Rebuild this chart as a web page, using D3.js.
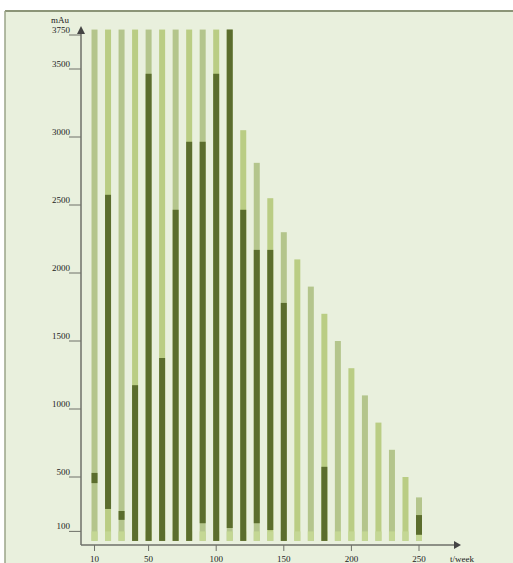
<!DOCTYPE html>
<html>
<head>
<meta charset="utf-8">
<script src="https://cdn.jsdelivr.net/npm/d3@7"></script>
<style>
  body { margin: 0; background: #fff; }
  svg { display: block; }
</style>
</head>
<body>
<svg width="513" height="563"></svg>
<script>
// weeks on the x axis
var weeks = [10, 20, 30, 40, 50, 60, 70, 80, 90, 100, 110, 120, 130,
    140, 150, 160, 170, 180, 190, 200, 210, 220, 230, 240, 250];
// top of the light bar (mAu)
var totals = [3790, 3790, 3790, 3790, 3790, 3790, 3790, 3790, 3790, 3790, 3790, 3050, 2810,
    2550, 2300, 2100, 1900, 1700, 1500, 1300, 1100, 900, 700, 500, 350];
// dark segment low / high (null = none)
var darkLow = [455, 265, 185, 30, 30, 30, 30, 30, 160, 30, 125, 30, 160,
    110, 30, null, null, 30, null, null, null, null, null, null, 75];
var darkHigh = [530, 2575, 250, 1175, 3465, 1375, 2465, 2965, 2965, 3465, 3790, 2465, 2170,
    2170, 1780, null, null, 575, null, null, null, null, null, null, 220];
var barBase = 30;
var lowBand = 100;

var yTicks = [100, 500, 1000, 1500, 2000, 2500, 3000, 3500, 3750];
var xTicks = [10, 50, 100, 150, 200, 250];

function main() {
    var svg = d3.select("svg");

    // frame + background
    svg.append("rect")
        .attr("x", 5).attr("y", 11)
        .attr("width", 508).attr("height", 552)
        .style("fill", "#e9f0dd");
    svg.append("line")
        .attr("x1", 5).attr("y1", 11).attr("x2", 513).attr("y2", 11)
        .style("stroke", "#8c9578").style("stroke-width", 2);
    svg.append("line")
        .attr("x1", 5).attr("y1", 11).attr("x2", 5).attr("y2", 563)
        .style("stroke", "#9aa488").style("stroke-width", 1.5);

    var x = d3.scaleLinear().domain([0, 250]).range([81, 419]);
    var y = d3.scaleLinear().domain([0, 3750]).range([545, 35]);
    var barW = 6;

    var data = weeks.map(function (w, i) {
        return { week: w, total: totals[i], lo: darkLow[i], hi: darkHigh[i], i: i };
    });

    var bars = svg.append("g").selectAll("g")
        .data(data)
        .enter().append("g");

    // light bar
    bars.append("rect")
        .attr("x", function (d) { return x(d.week) - barW / 2; })
        .attr("y", function (d) { return y(d.total); })
        .attr("width", barW)
        .attr("height", function (d) { return y(barBase) - y(d.total); })
        .style("fill", function (d) { return d.i % 2 ? "#bacd84" : "#b4c58c"; });

    // slightly lighter band at the bottom
    bars.append("rect")
        .attr("x", function (d) { return x(d.week) - barW / 2; })
        .attr("y", y(lowBand))
        .attr("width", barW)
        .attr("height", y(barBase) - y(lowBand))
        .style("fill", "#c4d794");

    // dark segment
    bars.filter(function (d) { return d.lo != null; })
        .append("rect")
        .attr("x", function (d) { return x(d.week) - barW / 2; })
        .attr("y", function (d) { return y(d.hi); })
        .attr("width", barW)
        .attr("height", function (d) { return y(d.lo) - y(d.hi); })
        .style("fill", "#5b6d2d");

    var axisColor = "#6e7068";
    var font = "'Liberation Serif', 'DejaVu Serif', serif";

    // y axis with arrow
    svg.append("line")
        .attr("x1", 81).attr("y1", 545).attr("x2", 81).attr("y2", 30)
        .style("stroke", axisColor).style("stroke-width", 1.5);
    svg.append("path")
        .attr("d", "M77,34 L81,26 L85,34 Z")
        .style("fill", "#444");

    // x axis with arrow
    svg.append("line")
        .attr("x1", 81).attr("y1", 545).attr("x2", 456).attr("y2", 545)
        .style("stroke", axisColor).style("stroke-width", 1.5);
    svg.append("path")
        .attr("d", "M454,541 L461,545 L454,549 Z")
        .style("fill", "#444");

    // y ticks
    var yt = svg.append("g").selectAll("g").data(yTicks).enter().append("g");
    yt.append("line")
        .attr("x1", 69).attr("x2", 81)
        .attr("y1", function (d) { return y(d); })
        .attr("y2", function (d) { return y(d); })
        .style("stroke", axisColor).style("stroke-width", 1);
    yt.append("text")
        .attr("x", 70)
        .attr("y", function (d) { return y(d) - 2; })
        .attr("text-anchor", "end")
        .style("font-family", font)
        .style("font-size", "9px")
        .style("fill", "#222")
        .text(function (d) { return d; });

    // x ticks
    var xt = svg.append("g").selectAll("g").data(xTicks).enter().append("g");
    xt.append("line")
        .attr("x1", function (d) { return x(d); })
        .attr("x2", function (d) { return x(d); })
        .attr("y1", 545).attr("y2", 551)
        .style("stroke", axisColor).style("stroke-width", 1);
    xt.append("text")
        .attr("x", function (d) { return x(d); })
        .attr("y", 562)
        .attr("text-anchor", "middle")
        .style("font-family", font)
        .style("font-size", "9px")
        .style("fill", "#222")
        .text(function (d) { return d; });

    // axis titles
    svg.append("text")
        .attr("x", 60).attr("y", 23)
        .attr("text-anchor", "middle")
        .style("font-family", font)
        .style("font-size", "9px")
        .style("fill", "#222")
        .text("mAu");
    svg.append("text")
        .attr("x", 462).attr("y", 562)
        .attr("text-anchor", "middle")
        .style("font-family", font)
        .style("font-size", "9px")
        .style("fill", "#222")
        .text("t/week");
}
main();
</script>
</body>
</html>
